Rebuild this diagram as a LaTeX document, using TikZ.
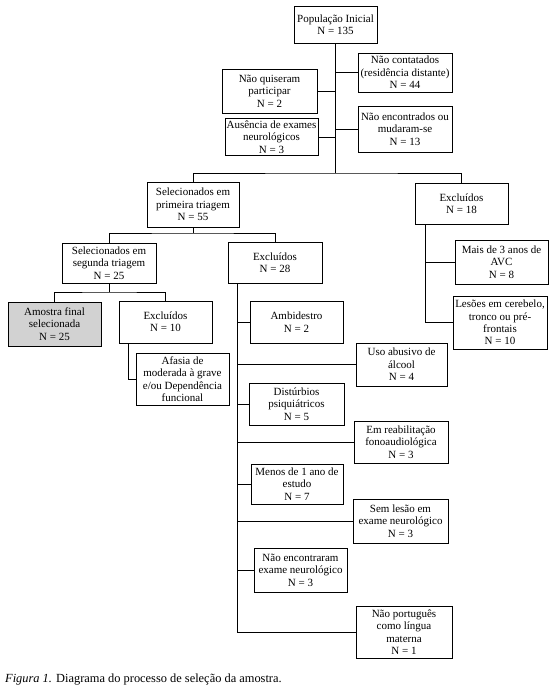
\documentclass[tikz,border=0pt]{standalone}
\usepackage{fontspec}
\setmainfont{Liberation Serif}
\definecolor{boxgrey}{HTML}{D2D2D2}
\begin{document}
\begin{tikzpicture}[x=1pt,y=-1pt,
  box/.style={draw, line width=0.8pt, align=center, inner sep=0pt,
    font=\fontsize{11}{12.4}\selectfont},
  ln/.style={line width=0.8pt}]
\useasboundingbox (0,0) rectangle (557,693);
% boxes
\node[box, minimum width=83pt, minimum height=37pt] (pop) at (335.5,24.5) {População Inicial\\N = 135};
\node[box, minimum width=94pt, minimum height=39pt] (nc) at (405,72.5) {Não contatados\\(residência distante)\\N = 44};
\node[box, minimum width=95pt, minimum height=44pt] (nq) at (269.5,91) {Não quiseram\\participar\\N = 2};
\node[box, minimum width=93pt, minimum height=37pt] (aus) at (271.5,137) {Ausência de exames\\neurológicos\\N = 3};
\node[box, minimum width=94pt, minimum height=46pt] (ne) at (405,129) {Não encontrados ou\\mudaram-se\\N = 13};
\node[box, minimum width=92pt, minimum height=45pt] (sel1) at (193,204.5) {Selecionados em\\primeira triagem\\N = 55};
\node[box, minimum width=93pt, minimum height=41pt] (exc18) at (461.5,203.5) {Excluídos\\N = 18};
\node[box, minimum width=94pt, minimum height=40pt] (sel2) at (109,263) {Selecionados em\\segunda triagem\\N = 25};
\node[box, minimum width=94pt, minimum height=41pt] (exc28) at (275,262.5) {Excluídos\\N = 28};
\node[box, minimum width=93pt, minimum height=44pt] (mais) at (501.5,262) {Mais de 3 anos de\\AVC\\N = 8};
\node[box, minimum width=94pt, minimum height=53pt] (les) at (500,322.5) {Lesões em cerebelo,\\tronco ou pré-\\frontais\\N = 10};
\node[box, fill=boxgrey, minimum width=93pt, minimum height=44pt] (am) at (54.5,324) {Amostra final\\selecionada\\N = 25};
\node[box, minimum width=93pt, minimum height=42pt] (exc10) at (165.5,322) {Excluídos\\N = 10};
\node[box, minimum width=93pt, minimum height=52pt] (afa) at (182.5,379) {Afasia de\\moderada à grave\\e/ou Dependência\\funcional};
\node[box, minimum width=93pt, minimum height=42pt] (amb) at (296.5,322) {Ambidestro\\N = 2};
\node[box, minimum width=91pt, minimum height=43pt] (uso) at (401.5,364.5) {Uso abusivo de\\álcool\\N = 4};
\node[box, minimum width=95pt, minimum height=42pt] (dis) at (296.5,404) {Distúrbios\\psiquiátricos\\N = 5};
\node[box, minimum width=94pt, minimum height=42pt] (reab) at (401,442) {Em reabilitação\\fonoaudiológica\\N = 3};
\node[box, minimum width=92pt, minimum height=40pt] (men) at (297,484) {Menos de 1 ano de\\estudo\\N = 7};
\node[box, minimum width=95pt, minimum height=44pt] (sem) at (400.5,521) {Sem lesão em\\exame neurológico\\N = 3};
\node[box, minimum width=93pt, minimum height=44pt] (nenc) at (300.5,570) {Não encontraram\\exame neurológico\\N = 3};
\node[box, minimum width=96pt, minimum height=52pt] (npt) at (404,632) {Não português\\como língua\\materna\\N = 1};
% caption
\node[anchor=base west, inner sep=0pt, font=\fontsize{12.4}{14}\selectfont] (cap) at (5,682)
  {\textit{Figura 1.} Diagrama do processo de seleção da amostra.};
% junctions
\coordinate (j1) at (335.5,173);
\coordinate (j2) at (193,233);
\coordinate (j3) at (109,292);
\coordinate (e10) at ([xshift=-37.5pt]exc10.south);
\coordinate (e18) at ([xshift=-36.5pt]exc18.south);
\coordinate (e28) at ([xshift=-38pt]exc28.south);
% connectors
\draw[ln] (pop.south) -- (j1);
\draw[ln] (nc.west) -- (nc.west -| j1);
\draw[ln] (nq.east) -- (nq.east -| j1);
\draw[ln] (aus.east) -- (aus.east -| j1);
\draw[ln] (ne.west) -- (ne.west -| j1);
\draw[ln] (sel1.north) |- (j1) -| (exc18.north);
\draw[ln] (sel1.south) -- (j2);
\draw[ln] (sel2.north) |- (j2) -| (exc28.north);
\draw[ln] (sel2.south) -- (j3);
\draw[ln] (am.north) |- (j3) -| (exc10.north);
\draw[ln] (e10) |- (afa.west);
\draw[ln] (e18) |- (les.west);
\draw[ln] (mais.west) -- (mais.west -| e18);
\draw[ln] (e28) |- (npt.west);
\draw[ln] (amb.west) -- (amb.west -| e28);
\draw[ln] (uso.west) -- (uso.west -| e28);
\draw[ln] (dis.west) -- (dis.west -| e28);
\draw[ln] (reab.west) -- (reab.west -| e28);
\draw[ln] (men.west) -- (men.west -| e28);
\draw[ln] (sem.west) -- (sem.west -| e28);
\draw[ln] (nenc.west) -- (nenc.west -| e28);
\end{tikzpicture}
\end{document}
